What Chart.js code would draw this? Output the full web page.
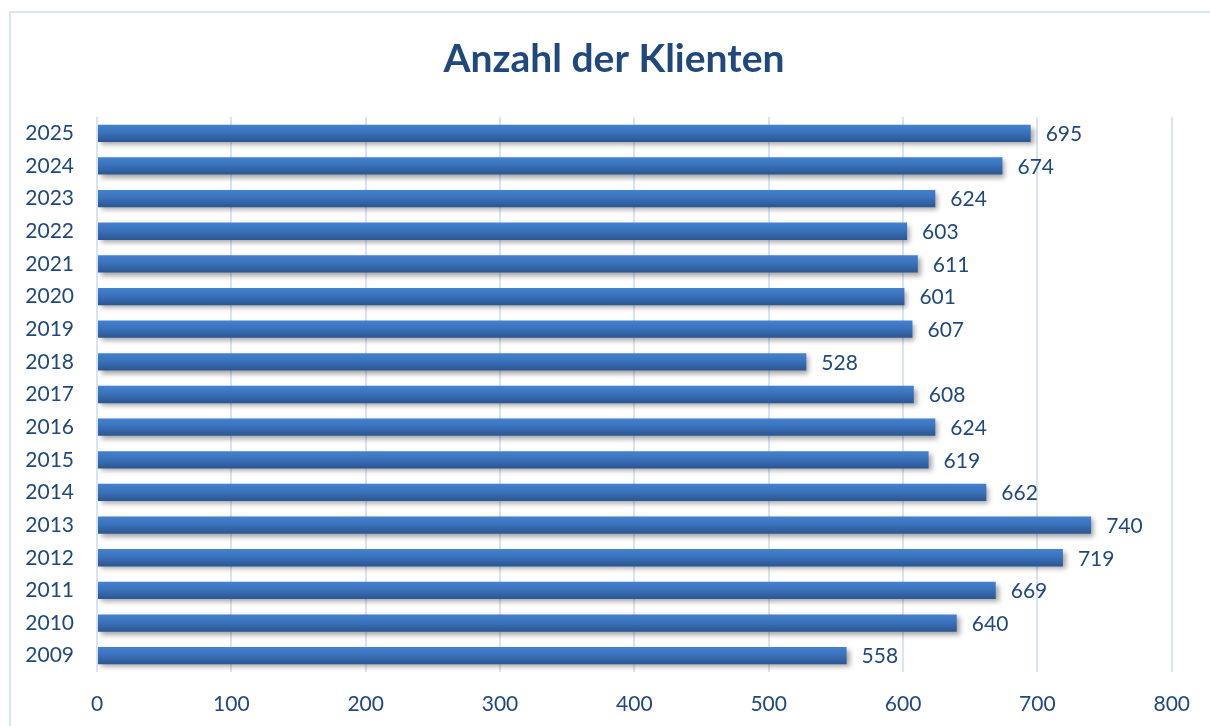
<!DOCTYPE html>
<html>
<head>
<meta charset="utf-8">
<script src="https://cdn.jsdelivr.net/npm/chart.js@4/dist/chart.umd.min.js"></script>
<style>
  html, body { margin: 0; padding: 0; background: #fff; overflow: hidden; }
  #wrap { position: relative; width: 1210px; height: 726px; }
  #frame { position: absolute; left: 9px; top: 11px; width: 1220px; height: 730px; border: 2px solid #dce6f3; box-sizing: border-box; }
  canvas { position: absolute; left: 0; top: 0; }
</style>
</head>
<body>
<div id="wrap">
  <div id="frame"></div>
  <canvas id="chart" width="1210" height="726"></canvas>
</div>
<script>
// Anzahl der Klienten je Jahr
const years = ['2009','2010','2011','2012','2013','2014','2015','2016','2017','2018','2019','2020','2021','2022','2023','2024','2025'];
const clients = [558, 640, 669, 719, 740, 662, 619, 624, 608, 528, 607, 601, 611, 603, 624, 674, 695];
const xTicks = [0, 100, 200, 300, 400, 500, 600, 700, 800];
const titleText = 'Anzahl der Klienten';

const DARK = '#1f497d';
const FONT = 'Lato, "Open Sans", sans-serif';
const BAR_PCT = 0.53;

// gradient per bar, light on top, darker at the bottom
function barFill(c) {
  const chart = c.chart;
  const ys = chart.scales.y;
  if (!chart.chartArea || !ys || c.dataIndex === undefined) return '#3a70b8';
  const mid = ys.getPixelForValue(c.dataIndex);
  const half = (ys.height / years.length) * BAR_PCT / 2;
  const g = chart.ctx.createLinearGradient(0, mid - half, 0, mid + half);
  g.addColorStop(0, '#4482cf');
  g.addColorStop(0.45, '#3a72bc');
  g.addColorStop(1, '#2b5690');
  return g;
}

const shadowPlugin = {
  id: 'barShadow',
  beforeDatasetDraw(chart) {
    const ctx = chart.ctx;
    ctx.save();
    ctx.shadowColor = 'rgba(0,0,0,0.35)';
    ctx.shadowBlur = 5;
    ctx.shadowOffsetX = 3;
    ctx.shadowOffsetY = 3;
  },
  afterDatasetDraw(chart) { chart.ctx.restore(); }
};

const valueLabels = {
  id: 'valueLabels',
  afterDatasetsDraw(chart) {
    const ctx = chart.ctx;
    const meta = chart.getDatasetMeta(0);
    ctx.save();
    ctx.font = '21px ' + FONT;
    ctx.fillStyle = DARK;
    ctx.textAlign = 'left';
    ctx.textBaseline = 'middle';
    meta.data.forEach((bar, i) => {
      ctx.fillText(String(clients[i]), bar.x + 15, bar.y + 1);
    });
    ctx.restore();
  }
};

// title sits centred on the frame, not on the canvas minus padding
const titlePlugin = {
  id: 'frameTitle',
  afterDraw(chart) {
    const ctx = chart.ctx;
    ctx.save();
    ctx.font = 'bold 39px ' + FONT;
    ctx.fillStyle = DARK;
    ctx.textAlign = 'center';
    ctx.textBaseline = 'middle';
    ctx.fillText(titleText, 614, 59);
    ctx.restore();
  }
};

new Chart(document.getElementById('chart'), {
  type: 'bar',
  data: {
    labels: years,
    datasets: [{
      data: clients,
      backgroundColor: barFill,
      borderWidth: 0,
      categoryPercentage: 1,
      barPercentage: BAR_PCT
    }]
  },
  plugins: [shadowPlugin, valueLabels, titlePlugin],
  options: {
    indexAxis: 'y',
    responsive: false,
    animation: false,
    layout: { padding: { top: 117, right: 36, bottom: 0, left: 0 } },
    plugins: {
      legend: { display: false },
      tooltip: { enabled: false },
      title: { display: false }
    },
    scales: {
      x: {
        min: 0, max: 800,
        afterBuildTicks(s) { s.ticks = xTicks.map(v => ({ value: v })); },
        afterFit(s) { s.height = 54; },
        grid: { color: '#d9e4f2', lineWidth: 2, drawTicks: false },
        border: { display: false },
        ticks: { color: DARK, font: { family: FONT, size: 21 }, padding: 20 }
      },
      y: {
        reverse: true,
        afterFit(s) { s.width = 97; },
        grid: { display: false, drawTicks: false },
        border: { display: false },
        ticks: { color: DARK, font: { family: FONT, size: 21 }, padding: 23 }
      }
    }
  }
});
</script>
</body>
</html>
